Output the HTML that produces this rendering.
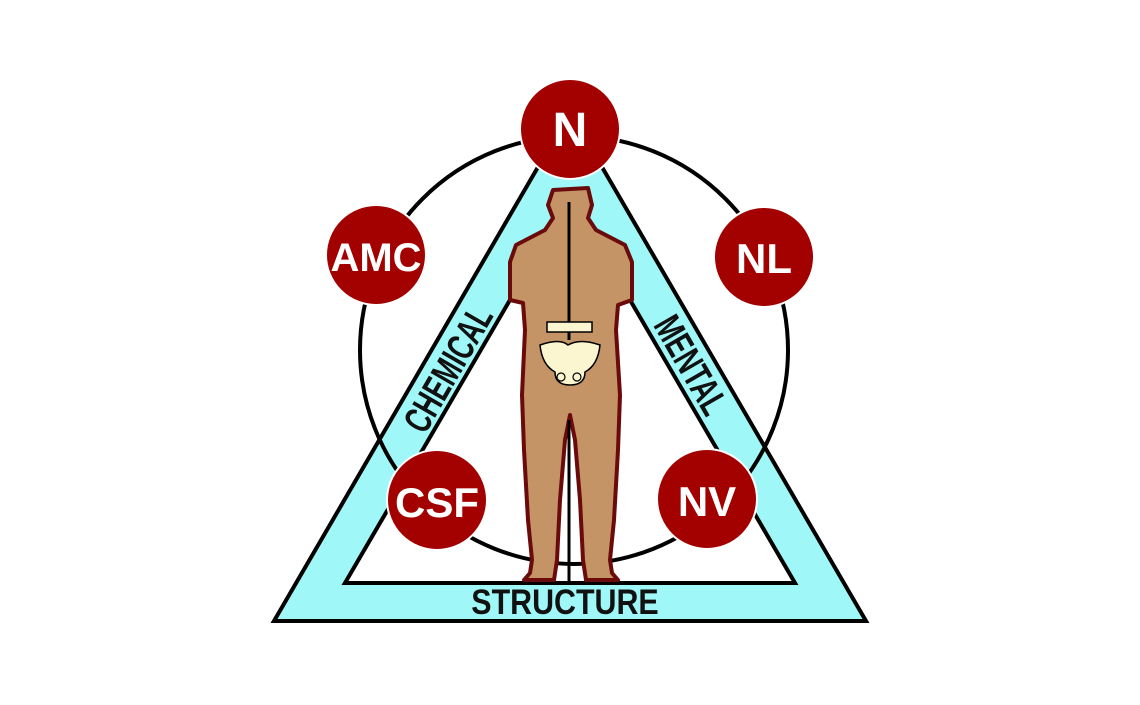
<!DOCTYPE html>
<html><head><style>html,body{margin:0;padding:0;background:#fff;}svg{display:block}</style></head>
<body>
<svg width="1140" height="705" viewBox="0 0 1140 705" xmlns="http://www.w3.org/2000/svg">
<polygon points="570,112 274,621 866,621" fill="#9ff7f7" stroke="#000" stroke-width="4"/>
<polygon points="570,197 345,583 795,583" fill="#fff" stroke="#000" stroke-width="4"/>
<circle cx="574" cy="350" r="214" fill="none" stroke="#000" stroke-width="4"/>
<path d="M553,190 L588,188 L592,205 L588,218 L596,230 L625,245 L632,262 L632,300 L618,305 L616,330 L620,395 L618,450 L614,520 L610,560 L612,573 L618,580 L586,580 L583,560 L580,500 L575,440 L570,415 L565,440 L560,500 L557,560 L554,580 L524,580 L530,573 L532,560 L528,520 L524,450 L522,395 L525,330 L523,303 L510,300 L510,262 L516,245 L545,230 L553,218 L548,205 Z" fill="#c49466" stroke="#6b0a0a" stroke-width="4" stroke-linejoin="round"/>
<line x1="569" y1="202" x2="569" y2="340" stroke="#000" stroke-width="3"/>
<line x1="569" y1="420" x2="569" y2="583" stroke="#000" stroke-width="3"/>
<rect x="547" y="322" width="45" height="10" fill="#fbf6cf" stroke="#000" stroke-width="1.5"/>
<path d="M540,345 Q560,338 568,345 Q580,338 600,345 Q598,365 585,372 Q585,385 570,385 Q555,385 555,372 Q542,365 540,345 Z" fill="#fbf6cf" stroke="#000" stroke-width="1.5"/>
<circle cx="561" cy="377" r="4" fill="none" stroke="#000" stroke-width="1.2"/>
<circle cx="577" cy="377" r="4" fill="none" stroke="#000" stroke-width="1.2"/>
<g fill="#a30000" stroke="#fff" stroke-width="2">
<circle cx="570" cy="129" r="50"/>
<circle cx="376" cy="255" r="50"/>
<circle cx="764" cy="257" r="50"/>
<circle cx="437" cy="500" r="50"/>
<circle cx="707" cy="499" r="50"/>
</g>
<g fill="#fff" font-family="Liberation Sans, sans-serif" font-weight="bold" text-anchor="middle">
<text x="570" y="146" font-size="48">N</text>
<text x="376" y="271" font-size="40">AMC</text>
<text x="764" y="273" font-size="42">NL</text>
<text x="437" y="517" font-size="42">CSF</text>
<text x="707" y="516" font-size="42">NV</text>
</g>
<g fill="#111" font-family="Liberation Sans, sans-serif" font-weight="bold" text-anchor="middle">
<text transform="translate(448,369) rotate(-60) scale(0.82,1.2)" font-size="32" dy="11">CHEMICAL</text>
<text transform="translate(691,365) rotate(60) scale(0.82,1.2)" font-size="32" dy="11">MENTAL</text>
<text transform="translate(565,614) scale(0.95,1.1)" font-size="32">STRUCTURE</text>
</g>
</svg>
</body></html>
